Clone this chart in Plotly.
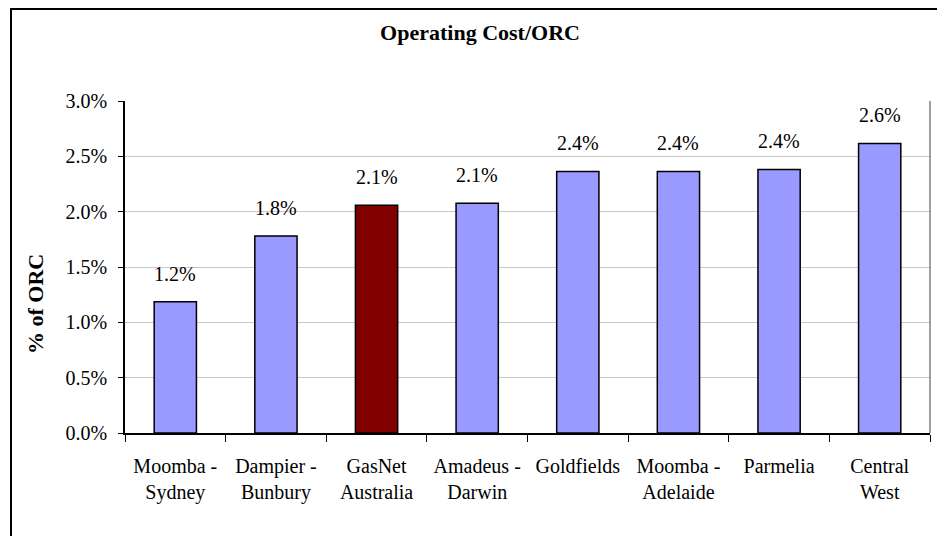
import plotly.graph_objects as go

# ---- data ----
categories = ["Moomba -<br>Sydney", "Dampier -<br>Bunbury", "GasNet<br>Australia",
              "Amadeus -<br>Darwin", "Goldfields", "Moomba -<br>Adelaide",
              "Parmelia", "Central<br>West"]
values = [1.185, 1.78, 2.057, 2.077, 2.364, 2.364, 2.382, 2.617]  # % of ORC
highlight = "GasNet<br>Australia"
y_ticks = [0.0, 0.5, 1.0, 1.5, 2.0, 2.5, 3.0]

# ---- layout constants (page has an 8px body margin) ----
OFF = 8
WIN_W, WIN_H = 945, 536
W, H = WIN_W - OFF, WIN_H - OFF
L, R, T, B = 125 - OFF, 15, 101 - OFF, 103
PW, PH = W - L - R, H - T - B
FONT = "Times New Roman, Liberation Serif, serif"


def px_x(px):
    # px is a window coordinate
    return (px - OFF - L) / PW


def px_y(py):
    return (H - B - (py - OFF)) / PH


colors = ["#800000" if c == highlight else "#9999FF" for c in categories]

fig = go.Figure()
fig.add_trace(go.Bar(
    x=categories, y=values,
    marker=dict(color=colors, line=dict(color="black", width=1.5)),
    hoverinfo="skip",
))

annotations = []
for c, v in zip(categories, values):
    annotations.append(dict(
        x=c, y=v, xref="x", yref="y", text=f"{v:.1f}%", showarrow=False,
        yanchor="bottom", yshift=15, font=dict(family=FONT, size=20, color="black"),
    ))

annotations.append(dict(
    x=px_x(35), y=px_y(304), xref="paper", yref="paper", text="<b>% of ORC</b>",
    textangle=-90, showarrow=False, xanchor="center", yanchor="middle",
    font=dict(family=FONT, size=22, color="black"),
))

shapes = [
    # outer chart frame (cropped on the right and bottom)
    dict(type="rect", xref="paper", yref="paper",
         x0=px_x(11), x1=px_x(WIN_W + 20), y0=px_y(WIN_H + 20), y1=px_y(OFF + 1),
         line=dict(color="black", width=2), fillcolor="rgba(0,0,0,0)", layer="above"),
    # plot area right border
    dict(type="line", xref="paper", yref="paper", x0=1, x1=1, y0=0, y1=1,
         line=dict(color="#404040", width=1)),
]

fig.update_layout(
    width=W, height=H,
    margin=dict(l=L, r=R, t=T, b=B, pad=0),
    paper_bgcolor="white", plot_bgcolor="white",
    bargap=0.58,
    showlegend=False,
    title=dict(text="<b>Operating Cost/ORC</b>", x=(480 - OFF) / W, xref="container",
               y=1 - (32 - OFF) / H, yref="container", xanchor="center", yanchor="middle",
               font=dict(family=FONT, size=22, color="black")),
    font=dict(family=FONT, size=20, color="black"),
    annotations=annotations,
    shapes=shapes,
    xaxis=dict(
        type="category", showline=True, linecolor="black", linewidth=1.5,
        ticks="outside", tickson="boundaries", ticklen=7, tickcolor="black", tickwidth=1,
        showgrid=False, tickfont=dict(family=FONT, size=20, color="black"),
        ticklabelstandoff=14,
    ),
    yaxis=dict(
        range=[0, 3.0], tickvals=y_ticks, ticktext=[f"{t:.1f}%" for t in y_ticks],
        showline=True, linecolor="black", linewidth=1.5,
        ticks="outside", ticklen=5, tickcolor="black", tickwidth=1,
        showgrid=True, gridcolor="#c8c8c8", gridwidth=1, zeroline=False,
        tickfont=dict(family=FONT, size=20, color="black"),
        ticklabelstandoff=7,
    ),
)

fig.write_html("out.html")
